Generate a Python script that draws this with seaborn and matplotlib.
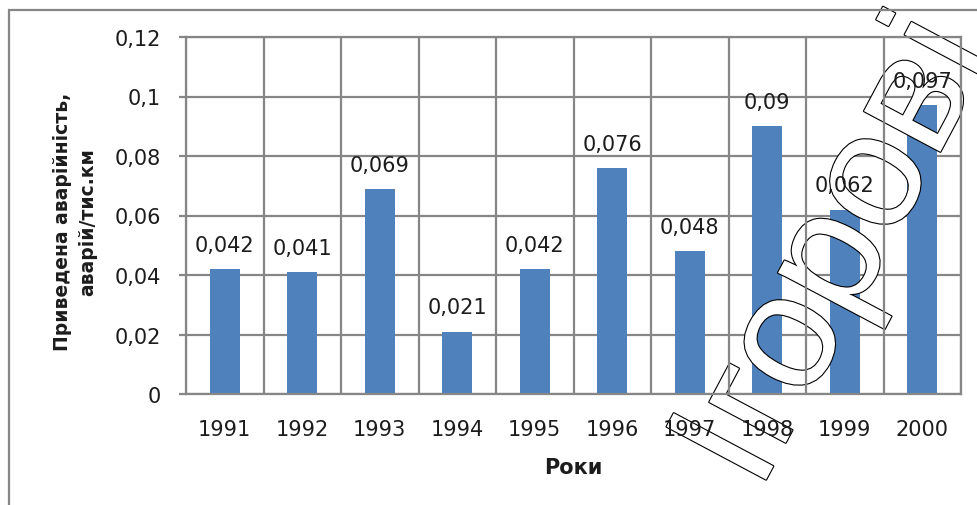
import numpy as np
import matplotlib
matplotlib.use("Agg")
import matplotlib.pyplot as plt
import matplotlib.patheffects as pe
from matplotlib.patches import Rectangle
import seaborn as sns

# Accident rate per year
years = ["1991", "1992", "1993", "1994", "1995", "1996", "1997", "1998", "1999", "2000"]
rate = [0.042, 0.041, 0.069, 0.021, 0.042, 0.076, 0.048, 0.090, 0.062, 0.097]
y_ticks = [0, 0.02, 0.04, 0.06, 0.08, 0.10, 0.12]

x_title = "Роки"
y_title = "Приведена аварійність,\nаварій/тис.км"
stamp = "Ігорові"

sns.set_theme(style="white")
plt.rcParams["font.family"] = ["DejaVu Sans"]

W, H = 977, 506
BAR = "#4F81BD"
GRID = "#868686"
INK = "#1c1c1c"
FS = 15


def comma(v):
    s = f"{v:g}"
    return s.replace(".", ",")


def fx(px):
    return px / W


def fy(py):
    return 1 - py / H


fig = plt.figure(figsize=(W / 100, H / 100), dpi=100)
ax = fig.add_axes([fx(186), fy(395), (961 - 186) / W, (395 - 38) / H])

sns.barplot(x=years, y=rate, color=BAR, saturation=1, width=0.39,
            linewidth=0, ax=ax, zorder=2)

ax.set_xlim(-0.5, len(years) - 0.5)
ax.set_ylim(0, 0.12)
ax.set_xlabel("")
ax.set_ylabel("")

# value labels above bars
for i, v in enumerate(rate):
    ax.annotate(comma(v), (i, v), xytext=(0, 13), textcoords="offset points",
                ha="center", va="baseline", fontsize=FS, color=INK, zorder=5)

# axes, grid and ticks
ax.set_axisbelow(True)
ax.set_yticks(y_ticks)
ax.set_yticklabels([comma(t) for t in y_ticks])
ax.yaxis.grid(True, color=GRID, linewidth=1.6)
ax.set_xticks(np.arange(-0.5, len(years), 1.0), minor=True)
ax.xaxis.grid(True, which="minor", color=GRID, linewidth=1.6)
ax.xaxis.grid(False, which="major")
ax.xaxis.set_zorder(3)
ax.tick_params(axis="x", which="major", length=0, pad=18, labelsize=FS, labelcolor=INK)
ax.tick_params(axis="x", which="minor", length=5.8, width=1.6, color=GRID, direction="out")
ax.tick_params(axis="y", length=5, width=1.6, color=GRID, direction="out", pad=13,
               labelsize=FS, labelcolor=INK, left=True)
for sp in ax.spines.values():
    sp.set_visible(True)
    sp.set_color(GRID)
    sp.set_linewidth(1.6)

# axis titles
fig.text(fx(573.5), fy(468), x_title, ha="center", va="center", fontsize=FS,
         fontweight="bold", color=INK)
fig.text(fx(75), fy(222), y_title, ha="center", va="center", rotation=90,
         fontsize=13.5, fontweight="bold", color=INK, multialignment="center",
         linespacing=1.45)

# chart border
fig.patches.append(Rectangle((fx(8.5), -0.2), 1.3, fy(10.5) + 0.2, transform=fig.transFigure,
                             fill=False, edgecolor=GRID, linewidth=1.6, zorder=0))

# outlined stamp across the chart
ax.text(fx(759), fy(494), stamp, transform=fig.transFigure, rotation=62,
        rotation_mode="anchor", ha="left", va="baseline", fontsize=118,
        family="Liberation Sans", color="white", clip_on=False, zorder=2.5,
        path_effects=[pe.withStroke(linewidth=1.6, foreground="black")])

fig.savefig("out.png", dpi=100)
